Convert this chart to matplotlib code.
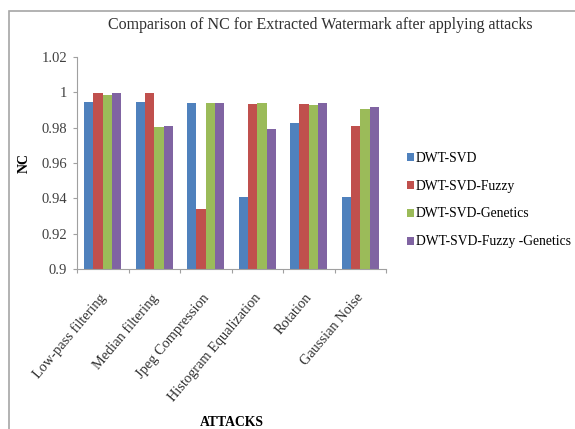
import matplotlib
matplotlib.use("Agg")
import matplotlib.pyplot as plt
import matplotlib.transforms as mtransforms
import numpy as np
from matplotlib.patches import Rectangle

# Data
attacks = ["Low-pass filtering", "Median filtering", "Jpeg Compression",
           "Histogram Equalization", "Rotation", "Gaussian Noise"]
series_names = ["DWT-SVD", "DWT-SVD-Fuzzy", "DWT-SVD-Genetics", "DWT-SVD-Fuzzy -Genetics"]
dwt_svd = [0.9948, 0.9948, 0.9942, 0.9410, 0.9828, 0.9410]
dwt_svd_fuzzy = [0.9999, 0.9999, 0.9340, 0.9933, 0.9935, 0.9810]
dwt_svd_genetics = [0.9984, 0.9805, 0.9942, 0.9942, 0.9930, 0.9905]
dwt_svd_fuzzy_genetics = [0.9999, 0.9810, 0.9942, 0.9795, 0.9942, 0.9918]
y_ticks = [0.9, 0.92, 0.94, 0.96, 0.98, 1.0, 1.02]
y_tick_labels = ["0.9", "0.92", "0.94", "0.96", "0.98", "1", "1.02"]

colors = ["#4F81BD", "#C0504D", "#9BBB59", "#8064A2"]
plt.rcParams['font.family'] = ['Liberation Serif', 'DejaVu Serif']

fig = plt.figure(figsize=(5.75, 4.29), dpi=100)
# Outer chart frame (top and left edges visible)
fig.patches.append(Rectangle((9 / 575, -0.01), 1.0, 1 - 11 / 429 + 0.01,
                             transform=fig.transFigure, fill=False,
                             edgecolor="#A6A6A6", linewidth=1.2))

ax = fig.add_axes([77 / 575, (429 - 269) / 429, 309 / 575, 212 / 429])

all_series = [dwt_svd, dwt_svd_fuzzy, dwt_svd_genetics, dwt_svd_fuzzy_genetics]
x = np.arange(len(attacks))
width = 0.18
for i, (vals, name) in enumerate(zip(all_series, series_names)):
    ax.bar(x + (i - 1.5) * width, vals, width, color=colors[i], label=name,
           linewidth=0)

ax.set_xlim(-0.5, len(attacks) - 0.5)
ax.set_ylim(0.9, 1.02)
ax.set_yticks(y_ticks)
ax.set_yticklabels(y_tick_labels, fontsize=10.5, color="#404040")

# Category tick marks between groups, labels at group centres
ax.set_xticks(np.arange(-0.5, len(attacks), 1.0))
ax.set_xticklabels([])
ax.set_xticks(x, minor=True)
ax.set_xticklabels(attacks, minor=True, rotation=50, ha="right", va="top",
                   rotation_mode="anchor", fontsize=10.4, color="#303030")
ax.tick_params(axis="x", which="minor", length=0, pad=16)
ax.tick_params(axis="x", which="major", length=3, color="#A0A0A0", direction="out")
ax.tick_params(axis="y", length=3, color="#A0A0A0", direction="out", pad=4)

# nudge the rotated labels a little to the left
shift = mtransforms.ScaledTranslation(-4 / 100, 0, fig.dpi_scale_trans)
for lbl in ax.get_xticklabels(minor=True):
    lbl.set_transform(lbl.get_transform() + shift)

for s in ["top", "right"]:
    ax.spines[s].set_visible(False)
for s in ["left", "bottom"]:
    ax.spines[s].set_color("#A0A0A0")

ax.set_ylabel("NC", fontsize=10, fontweight="bold", labelpad=8)
fig.text(232 / 575, 1 - 423 / 429, "ATTACKS", fontsize=9.8, fontweight="bold",
         ha="center", va="center")
fig.text(320 / 575, 1 - 25 / 429,
         "Comparison of NC for Extracted Watermark after applying attacks",
         fontsize=11.5, ha="center", va="center", color="#303030")

ax.legend(loc="center left", bbox_to_anchor=(407 / 575, 1 - 200 / 429),
          bbox_transform=fig.transFigure, frameon=False, fontsize=9.8,
          borderpad=0, borderaxespad=0,
          handlelength=0.5, handleheight=0.5, handletextpad=0.15,
          labelspacing=1.1)

fig.savefig("out.png", dpi=100)
